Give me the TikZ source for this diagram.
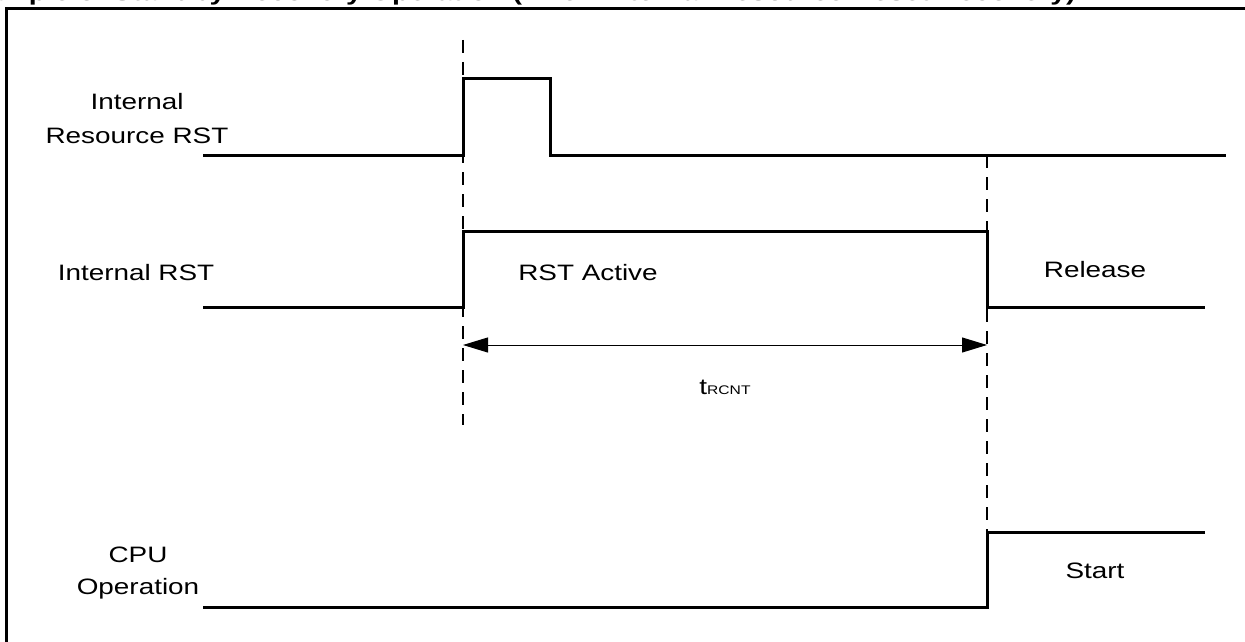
\documentclass[tikz,border=0pt]{standalone}
\usepackage{fontspec}
\setmainfont{Liberation Sans}[FakeStretch=1.25]
\newfontfamily\titlefont{Liberation Sans}[FakeStretch=1.28]
\usetikzlibrary{arrows.meta}
\begin{document}
\begin{tikzpicture}[x=1pt,y=-1pt,
  sig/.style={line width=3pt, line join=miter},
  guide/.style={line width=2pt, dash pattern=on 13pt off 9pt},
  frame/.style={line width=3pt},
  lbl/.style={font=\fontsize{22.3}{26}\selectfont, inner sep=0pt, anchor=base},
  ttl/.style={font=\titlefont\fontsize{22.3}{26}\selectfont\bfseries, inner sep=0pt, anchor=base east},
  dimline/.style={line width=1pt, {Triangle[length=25pt,width=15pt]}-{Triangle[length=25pt,width=15pt]}}
]
\useasboundingbox (0,0) rectangle (1245,642);
% title (cut by the top edge) and frame
\node[ttl] (title) at (1076,1) {Example of Standby Recovery Operation (when Internal Resource Reset Recovery)};
\draw[frame] (6.5,9) rectangle (1262,662);

% guide coordinates
\coordinate (g1top) at (463,40);
\coordinate (g1bot) at (463,425);
\coordinate (g2top) at (987,155);
\coordinate (g2bot) at (987,532);
\draw[guide] (g1top) -- (g1bot);
\draw[guide] (g2top) -- (g2bot);

% Internal Resource RST
\coordinate (a0) at (203,155);
\coordinate (a1) at (463,155);
\coordinate (a2) at (463,79);
\coordinate (a3) at (550,79);
\coordinate (a4) at (550,155);
\coordinate (a5) at (1226,155);
\draw[sig] (a0) -- (a1) -- (a2) -- (a3) -- (a4) -- (a5);

% Internal RST
\coordinate (b0) at (203,307);
\coordinate (b1) at (463,307);
\coordinate (b2) at (463,231);
\coordinate (b3) at (987,231);
\coordinate (b4) at (987,307);
\coordinate (b5) at (1205,307);
\draw[sig] (b0) -- (b1) -- (b2) -- (b3) -- (b4) -- (b5);

% CPU Operation
\coordinate (c0) at (203,607);
\coordinate (c1) at (987,607);
\coordinate (c2) at (987,532);
\coordinate (c3) at (1205,532);
\draw[sig] (c0) -- (c1) -- (c2) -- (c3);

% tRCNT dimension
\coordinate (d0) at (463,345);
\coordinate (d1) at (987,345);
\draw[dimline] (d0) -- (d1);
\node[lbl] (trcnt) at (725,394) {t{\fontsize{12.5}{14}\selectfont RCNT}};

% labels
\node[lbl] (lIRR1) at (137,109) {Internal};
\node[lbl] (lIRR2) at (137,143) {Resource RST};
\node[lbl] (lIR) at (136,280) {Internal RST};
\node[lbl] (lAct) at (588,280) {RST Active};
\node[lbl] (lRel) at (1095,277) {Release};
\node[lbl] (lCPU1) at (138,562) {CPU};
\node[lbl] (lCPU2) at (138,594) {Operation};
\node[lbl] (lStart) at (1095,578) {Start};
\end{tikzpicture}
\end{document}
